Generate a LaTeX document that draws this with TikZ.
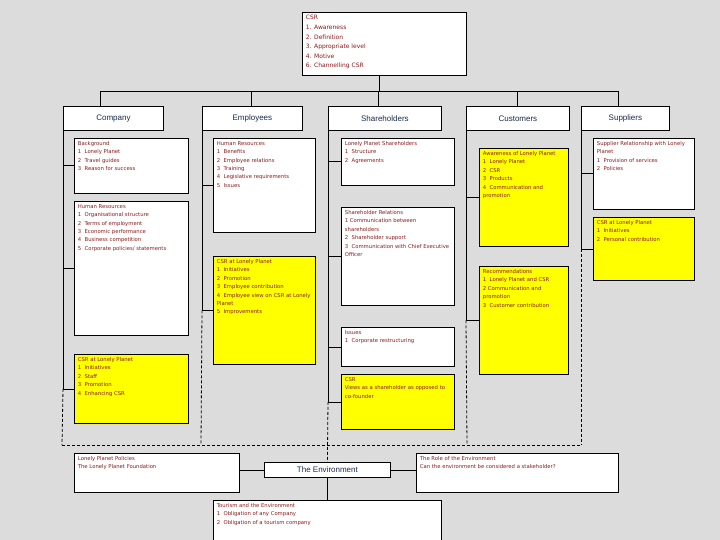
\documentclass[tikz,border=0pt]{standalone}
\usepackage{fontspec}
\setmainfont{Liberation Sans}
\newfontfamily\boxfont{DejaVu Sans}
\definecolor{bg}{HTML}{DCDCDC}
\definecolor{tred}{HTML}{8B1A1A}
\definecolor{navy}{HTML}{1A2A4A}
\definecolor{yel}{HTML}{FFFF00}
\newcommand\bx[7]{%
  \node[box,fill=#6,anchor=north west,minimum width={(#4-#2)*1pt},minimum height={(#5-#3)*1pt}] (#1) at (#2,-#3)
  {\parbox[t][\dimexpr #5pt-#3pt-6pt\relax][t]{\dimexpr #4pt-#2pt-7pt\relax}{\raggedright #7}};}
\newcommand\hd[6]{%
  \node[head,anchor=north west,minimum width={(#4-#2)*1pt},minimum height={(#5-#3)*1pt}] (#1) at (#2,-#3) {#6};}
\begin{document}
\begin{tikzpicture}[x=1pt,y=1pt,
  box/.style={draw=black,line width=0.8pt,inner sep=3pt,font=\boxfont\fontsize{5.3}{8.4}\selectfont\color{tred}},
  head/.style={draw=black,line width=0.8pt,fill=white,inner sep=1pt,font=\fontsize{8}{9}\selectfont\color{navy}},
  ln/.style={line width=0.8pt},
  dl/.style={line width=0.8pt,dashed,dash pattern=on 3pt off 2pt}]
\useasboundingbox (0,0) rectangle (720,-540);
\clip (0,0) rectangle (720,-540);
\fill[bg] (0,0) rectangle (720,-540);
% top
\bx{csr}{302}{12}{466}{75}{white}{\fontsize{6}{9.6}\selectfont CSR\\1. Awareness\\2. Definition\\3. Appropriate level\\4. Motive\\6. Channelling CSR}
\hd{company}{63}{106}{163}{130}{Company}
\hd{employees}{202}{106}{302}{130}{Employees}
\hd{share}{328}{106}{441}{130}{Shareholders}
\hd{cust}{466}{106}{569}{130}{Customers}
\hd{supp}{581}{106}{669}{130}{Suppliers}
\coordinate (bar) at (379,-91);
\draw[ln] (csr.south -| bar) -- (bar);
\draw[ln] (100,-91) -- (618,-91);
\foreach \x/\n in {100/company,251/employees,378/share,517/cust,618/supp}
  \draw[ln] (\x,-91) -- (\n.north -| \x,0);
% company
\bx{bg1}{74}{138}{188}{193}{white}{Background\\1\ \ Lonely Planet\\2\ \ Travel guides\\3\ \ Reason for success}
\bx{hr1}{74}{201}{188}{335}{white}{Human Resources\\1\ \ Organisational structure\\2\ \ Terms of employment\\3\ \ Economic performance\\4\ \ Business competition\\5\ \ Corporate policies/ statements}
\bx{csr1}{74}{354}{188}{423}{yel}{CSR at Lonely Planet\\1\ \ Initiatives\\2\ \ Staff\\3\ \ Promotion\\4\ \ Enhancing CSR}
% employees
\bx{hr2}{213}{138}{315}{232}{white}{Human Resources\\1\ \ Benefits\\2\ \ Employee relations\\3\ \ Training\\4\ \ Legislative requirements\\5\ \ Issues}
\bx{csr2}{213}{256}{315}{364}{yel}{CSR at Lonely Planet\\1\ \ Initiatives\\2\ \ Promotion\\3\ \ Employee contribution\\4\ \ Employee view on CSR at Lonely Planet\\5\ \ Improvements}
% shareholders
\bx{sh1}{341}{138}{454}{185}{white}{Lonely Planet Shareholders\\1\ \ Structure\\2\ \ Agreements}
\bx{sh2}{341}{207}{454}{305}{white}{Shareholder Relations\\1 Communication between shareholders\\2\ \ Shareholder support\\3\ \ Communication with Chief Executive Officer}
\bx{sh3}{341}{327}{454}{366}{white}{Issues\\1\ \ Corporate restructuring}
\bx{sh4}{341}{374}{454}{429}{yel}{CSR\\Views as a shareholder as opposed to co-founder}
% customers
\bx{cu1}{479}{148}{568}{246}{yel}{Awareness of Lonely Planet\\1\ \ Lonely Planet\\2\ \ CSR\\3\ \ Products\\4\ \ Communication and promotion}
\bx{cu2}{479}{266}{568}{374}{yel}{Recommendations\\1\ \ Lonely Planet and CSR\\2 Communication and promotion\\3\ \ Customer contribution}
% suppliers
\bx{su1}{593}{138}{694}{209}{white}{Supplier Relationship with Lonely Planet\\1\ \ Provision of services\\2\ \ Policies}
\bx{su2}{593}{217}{694}{280}{yel}{CSR at Lonely Planet\\1\ \ Initiatives\\2\ \ Personal contribution}
% environment
\hd{env}{264}{462}{390}{477}{The Environment}
\bx{pol}{74}{453}{239}{492}{white}{Lonely Planet Policies\\The Lonely Planet Foundation}
\bx{role}{416}{453}{618}{492}{white}{The Role of the Environment\\Can the environment be considered a stakeholder?}
\bx{tour}{213}{500}{441}{550}{white}{Tourism and the Environment\\1\ \ Obligation of any Company\\2\ \ Obligation of a tourism company}
% column lines
\coordinate (b1) at (62,-445); \coordinate (b2) at (201,-445);
\coordinate (b4) at (467,-445); \coordinate (b5) at (581,-445);
\draw[ln] (company.south west) -- (company.south west |- csr1.west);
\draw[dl] (company.south west |- csr1.west) -- (b1);
\draw[ln] (employees.south west) -- (employees.south west |- csr2.west);
\draw[dl] (employees.south west |- csr2.west) -- (b2);
\draw[ln] (share.south west) -- (share.south west |- sh4.west);
\draw[dl] (share.south west |- sh4.west) -- (env.north);
\draw[ln] (cust.south west) -- (cust.south west |- cu2.west);
\draw[dl] (cust.south west |- cu2.west) -- (b4);
\draw[ln] (supp.south west) -- (supp.south west |- su2.west);
\draw[dl] (supp.south west |- su2.west) -- (b5);
\draw[dl] (b1) -- (b5);
\foreach \c/\b in {company/bg1,company/hr1,company/csr1,employees/hr2,employees/csr2,share/sh1,share/sh2,share/sh3,share/sh4,cust/cu1,cust/cu2,supp/su1,supp/su2}
  \draw[ln] (\c.south west |- \b.west) -- (\b.west);
\draw[ln] (pol.east |- env.west) -- (env.west);
\draw[ln] (env.east) -- (role.west |- env.east);
\draw[ln] (env.south) -- (tour.north);
\end{tikzpicture}
\end{document}
